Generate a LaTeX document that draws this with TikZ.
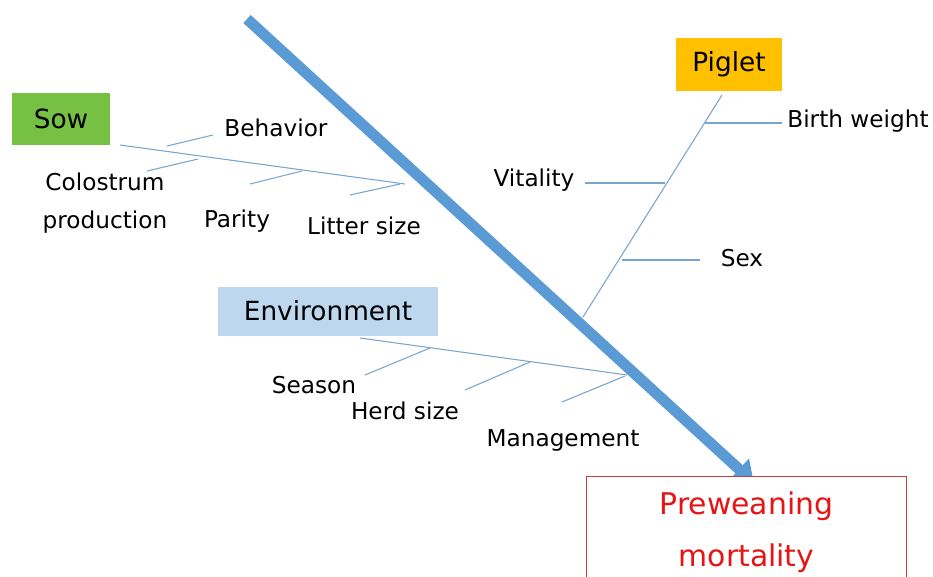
\documentclass[tikz,border=0pt]{standalone}
\usepackage{fontspec}
\setmainfont{DejaVu Sans}
\usetikzlibrary{arrows.meta,backgrounds}

\definecolor{sowgreen}{RGB}{118,192,68}
\definecolor{pigletorange}{RGB}{255,192,0}
\definecolor{envblue}{RGB}{189,215,238}
\definecolor{spineblue}{RGB}{91,155,213}
\definecolor{bonecol}{RGB}{120,165,205}
\definecolor{effectred}{RGB}{230,20,20}
\definecolor{effectframe}{RGB}{200,60,60}

\tikzset{
    cause/.style={inner sep=0pt, text centered, font=\fontsize{15}{18}\selectfont},
    factor/.style={inner sep=0pt, font=\fontsize{13.2}{16}\selectfont},
    bone/.style={draw=bonecol, line width=0.6pt},
    spine/.style={draw=spineblue, line width=6.2pt, -{Triangle[length=4mm, width=5.6mm]}}
}

\begin{document}
\begin{tikzpicture}[x=0.2mm, y=-0.2mm]
        \useasboundingbox (0,0) rectangle (933,576);
        \clip (0,0) rectangle (933,576);
        
        \node (sow) [cause, fill=sowgreen, minimum width=19.6mm, minimum height=10.4mm] at (61,119) {Sow};
        \node (piglet) [cause, fill=pigletorange, minimum width=21.2mm, minimum height=10.6mm] at (729,64) {Piglet};
        \node (environment) [cause, fill=envblue, minimum width=44mm, minimum height=9.8mm] at (328,311) {Environment};
        
        \node (effect) [draw=effectframe, fill=white, line width=0.6pt, anchor=north, text width=62mm, inner xsep=1mm, inner ysep=3mm, align=center, text=effectred, font=\fontsize{17}{30}\selectfont] at (746.5,476) {Preweaning\\mortality};
        
        % main spine
        \coordinate (spinetop) at (247,19);
        \begin{pgfonlayer}{background}
        \draw [spine, shorten >=-2mm] (spinetop) -- (effect.north);
        \end{pgfonlayer}
        
        % sow
        \node (behavior) [factor] at (276,128) {Behavior};
        \node (colostrum) [factor, align=center, font=\fontsize{13.2}{22}\selectfont] at (105,203) {Colostrum\\production};
        \node (parity) [factor] at (237,221) {Parity};
        \node (litter) [factor] at (364,226) {Litter size};
        \coordinate (sowtail) at (120,145);
        \coordinate (sowhead) at (405,184);
        \coordinate (behaviorA) at (167,146);
        \coordinate (behaviorB) at (213,135);
        \coordinate (colostrumA) at (147,171);
        \coordinate (colostrumB) at (198,159);
        \coordinate (parityA) at (250,184);
        \coordinate (parityB) at (302,171);
        \coordinate (litterA) at (350,195);
        \coordinate (litterB) at (400,184);
        \draw [bone] (sowtail) -- (sowhead);
        \draw [bone] (behaviorA) -- (behaviorB);
        \draw [bone] (colostrumA) -- (colostrumB);
        \draw [bone] (parityA) -- (parityB);
        \draw [bone] (litterA) -- (litterB);
        
        % piglet
        \node (birthweight) [factor] at (858,121) {Birth weight};
        \node (vitality) [factor] at (534,180) {Vitality};
        \node (sex) [factor] at (742,258) {Sex};
        \coordinate (piglettail) at (722,95);
        \coordinate (pigletfoot) at (583,317);
        \coordinate (birthweightA) at (705,123);
        \coordinate (birthweightB) at (782,123);
        \coordinate (vitalityA) at (585,183);
        \coordinate (vitalityB) at (665,183);
        \coordinate (sexA) at (622,260);
        \coordinate (sexB) at (700,260);
        \draw [bone] (piglettail) -- (pigletfoot);
        \draw [bone] (birthweightA) -- (birthweightB);
        \draw [bone] (vitalityA) -- (vitalityB);
        \draw [bone] (sexA) -- (sexB);
        
        % environment
        \node (season) [factor] at (314,385) {Season};
        \node (herdsize) [factor] at (405,411) {Herd size};
        \node (management) [factor] at (563,440) {Management};
        \coordinate (envtail) at (360,338);
        \coordinate (envhead) at (627,375);
        \coordinate (seasonA) at (365,375);
        \coordinate (seasonB) at (430,348);
        \coordinate (herdsizeA) at (465,390);
        \coordinate (herdsizeB) at (530,362);
        \coordinate (managementA) at (562,402);
        \coordinate (managementB) at (625,376);
        \draw [bone] (envtail) -- (envhead);
        \draw [bone] (seasonA) -- (seasonB);
        \draw [bone] (herdsizeA) -- (herdsizeB);
        \draw [bone] (managementA) -- (managementB);
    \end{tikzpicture}
\end{document}
